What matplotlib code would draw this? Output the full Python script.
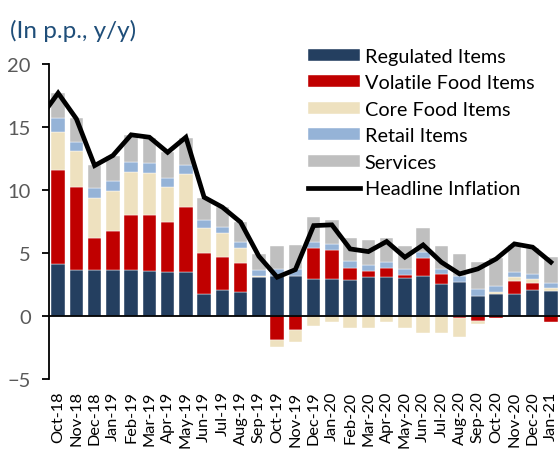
import matplotlib
matplotlib.use("Agg")
import matplotlib.pyplot as plt
import numpy as np

plt.rcParams['font.family'] = ['Lato', 'DejaVu Sans']

months = ["Oct-18", "Nov-18", "Dec-18", "Jan-19", "Feb-19", "Mar-19", "Apr-19", "May-19",
          "Jun-19", "Jul-19", "Aug-19", "Sep-19", "Oct-19", "Nov-19", "Dec-19", "Jan-20",
          "Feb-20", "Mar-20", "Apr-20", "May-20", "Jun-20", "Jul-20", "Aug-20", "Sep-20",
          "Oct-20", "Nov-20", "Dec-20", "Jan-21"]

regulated = [4.15, 3.67, 3.70, 3.65, 3.65, 3.62, 3.54, 3.49, 1.77, 2.06, 1.90, 3.14,
             3.22, 3.20, 2.94, 2.94, 2.88, 3.15, 3.12, 3.02, 3.17, 2.59, 2.70, 1.64,
             1.77, 1.77, 2.12, 2.04]
volatile = [7.48, 6.57, 2.54, 3.15, 4.37, 4.43, 3.94, 5.21, 3.25, 2.67, 2.31, 0.00,
            -1.88, -1.06, 2.46, 2.30, 0.95, 0.46, 0.72, 0.29, 1.46, 0.77, -0.16, -0.34,
            -0.10, 1.01, 0.55, -0.45]
core_food = [2.97, 2.90, 3.15, 3.17, 3.43, 3.32, 2.81, 2.57, 1.98, 1.86, 1.21, 0.05,
             -0.58, -1.00, -0.80, -0.48, -0.95, -0.97, -0.42, -0.90, -1.35, -1.35, -1.45, -0.26,
             0.13, 0.34, 0.29, 0.18]
retail = [1.11, 0.72, 0.77, 0.77, 0.82, 0.82, 0.69, 0.71, 0.67, 0.52, 0.50, 0.48,
          0.53, 0.55, 0.52, 0.52, 0.53, 0.49, 0.50, 0.45, 0.48, 0.42, 0.47, 0.53,
          0.53, 0.42, 0.37, 0.43]
services = [2.01, 1.85, 1.84, 2.01, 2.12, 1.94, 2.08, 2.17, 1.72, 1.54, 1.54, 1.27,
            1.85, 1.91, 1.94, 1.88, 1.88, 1.97, 1.90, 1.80, 1.87, 1.78, 1.75, 2.12,
            2.17, 2.12, 2.09, 2.09]
# headline inflation; first value is Sep-18 (just left of the visible range)
headline_prev = 15.7
headline = [17.7, 15.66, 11.95, 12.75, 14.39, 14.2, 13.0, 14.2, 9.44, 8.65, 7.46, 4.76,
            3.1, 3.7, 7.19, 7.25, 5.34, 5.13, 5.93, 4.68, 5.66, 4.29, 3.36, 3.76,
            4.55, 5.74, 5.48, 4.29]

series = [
    ("Regulated Items", regulated, "#243F60"),
    ("Volatile Food Items", volatile, "#C00000"),
    ("Core Food Items", core_food, "#EEE1BF"),
    ("Retail Items", retail, "#95B3D7"),
    ("Services", services, "#BFBFBF"),
]

fig = plt.figure(figsize=(5.6, 4.52), dpi=100)
ax = fig.add_axes([0.0875, 0.1586, 0.9125, 0.6974])

x = np.arange(len(months))
pos = np.zeros(len(months))
neg = np.zeros(len(months))
handles = []
for name, vals, col in series:
    v = np.array(vals, dtype=float)
    bottoms = np.where(v >= 0, pos, neg)
    b = ax.bar(x, v, bottom=bottoms, width=0.73, color=col, edgecolor="white",
               linewidth=0.3, label=name, zorder=2)
    handles.append(b)
    pos = np.where(v >= 0, pos + v, pos)
    neg = np.where(v < 0, neg + v, neg)

hx = np.concatenate([[-1], x])
hy = np.concatenate([[headline_prev], headline])
ln, = ax.plot(hx, hy, color="black", linewidth=3.4, solid_joinstyle="miter",
              label="Headline Inflation", zorder=4)
handles.append(ln)

ax.axhline(0, color="black", linewidth=1.3, zorder=3)
ax.set_xlim(-0.5, 27.5)
ax.set_ylim(-5, 20)
ax.set_yticks([-5, 0, 5, 10, 15, 20])
for s in ["top", "right", "bottom"]:
    ax.spines[s].set_visible(False)
ax.spines["left"].set_linewidth(1.3)
ax.tick_params(axis="y", direction="out", length=5, width=1.3, pad=8,
               labelsize=14.5, labelcolor="#595959", color="black")
ax.set_xticks(x)
ax.set_xticklabels(months, rotation=90, fontsize=11.8, color="black")
ax.tick_params(axis="x", length=0, pad=8)

fig.legend(handles=handles, labels=[h.get_label() for h in handles],
           loc="upper left", bbox_to_anchor=(0.55, 0.892), frameon=False,
           fontsize=14.3, handlelength=2.6, handleheight=0.55, handletextpad=0.25,
           labelspacing=0.48, borderpad=0, borderaxespad=0)

fig.text(0.018, 0.931, "(In p.p., y/y)", color="#1F4E79", fontsize=17.5,
         va="center", ha="left")

fig.savefig("out.png", dpi=100)
